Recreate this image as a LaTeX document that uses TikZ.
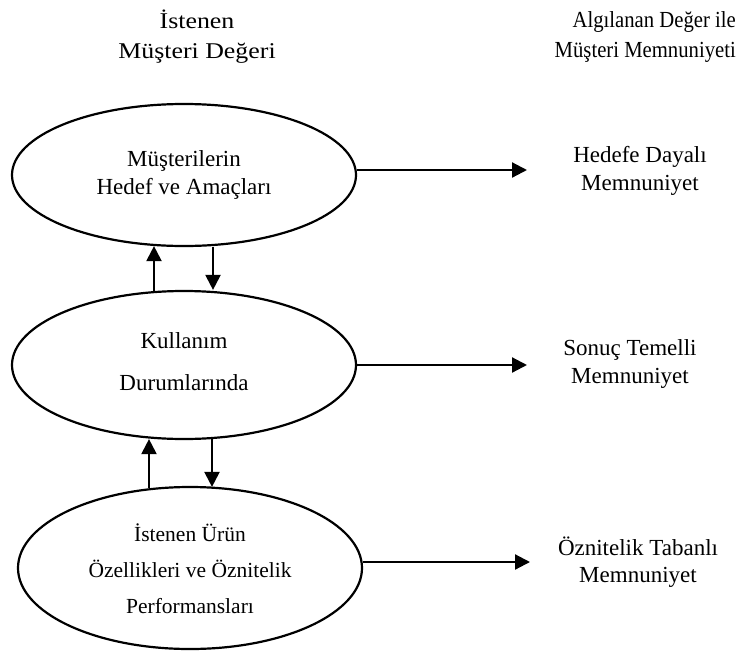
\documentclass[tikz,border=0pt]{standalone}
\usepackage{fontspec}
\setmainfont{Liberation Serif}
\usetikzlibrary{shapes.geometric,arrows.meta,calc}
\begin{document}
\begin{tikzpicture}[x=1pt,y=-1pt,
  oval/.style={ellipse,draw,line width=2.2pt,inner sep=0pt},
  txt/.style={align=center,font=\fontsize{23}{27.5}\selectfont},
  arr/.style={line width=2.2pt,-{Triangle[length=15pt,width=15pt]}}]
\useasboundingbox (0,0) rectangle (741,653);

% column headings
\node[txt,font=\fontsize{22.5}{30}\selectfont,xscale=1.15] (hL) at (197,37) {İstenen\\Müşteri Değeri};
\node[txt,align=right,anchor=east,font=\fontsize{23}{30}\selectfont,xscale=0.9] (hR) at (739,37) {Algılanan Değer ile\\Müşteri Memnuniyeti};

% value levels
\node[oval,minimum width=344pt,minimum height=142pt] (e1) at (184,175) {};
\node[txt] at (e1) {Müşterilerin\\Hedef ve Amaçları};
\node[oval,minimum width=344pt,minimum height=148pt] (e2) at (184,365) {};
\node[txt,font=\fontsize{23}{42}\selectfont] at ($(e2)+(0,-3)$) {Kullanım\\Durumlarında};
\node[oval,minimum width=344pt,minimum height=162pt] (e3) at (190,568) {};
\node[txt,font=\fontsize{21.5}{36}\selectfont] at ($(e3)+(0,1)$) {İstenen Ürün\\Özellikleri ve Öznitelik\\Performansları};

% satisfaction types
\node[txt] (r1) at (640,171) {Hedefe Dayalı\\Memnuniyet};
\node[txt] (r2) at (630,364) {Sonuç Temelli\\Memnuniyet};
\node[txt] (r3) at (638,562) {Öznitelik Tabanlı\\Memnuniyet};
\coordinate (t1) at (527,170);
\coordinate (t2) at (527,365);
\coordinate (t3) at (530,562);

\draw[arr] (e1.east |- t1) -- (t1);
\draw[arr] (e2.east |- t2) -- (t2);
\draw[arr] (e3.east |- t3) -- (t3);

% links between levels
\draw[arr] ($(e2.north)+(-30,1)$) -- ($(e1.south)+(-30,-1)$);
\draw[arr] ($(e1.south)+(29,0)$) -- ($(e2.north)+(29,0)$);
\draw[arr] ($(e3.north)+(-41,2)$) -- ($(e2.south)+(-35,-1)$);
\draw[arr] ($(e2.south)+(28,-1)$) -- ($(e3.north)+(22,1)$);
\end{tikzpicture}
\end{document}
